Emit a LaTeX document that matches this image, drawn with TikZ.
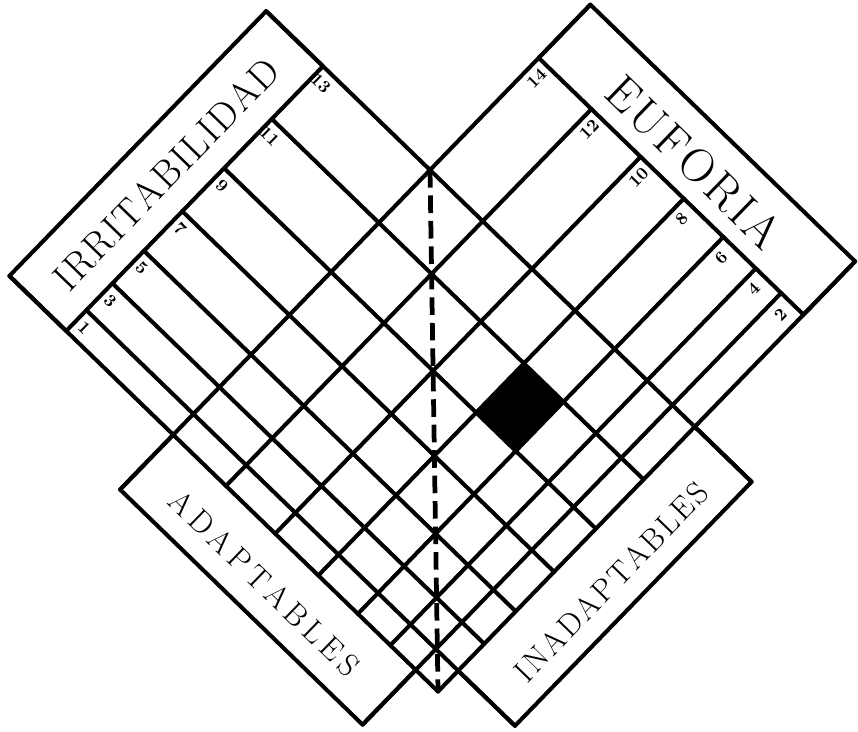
\documentclass[tikz,border=0pt]{standalone}
\usepackage{fontspec}
\ExplSyntaxOn
\NewDocumentCommand\spaceout{mm}{\tl_map_inline:nn {#2}{##1\kern#1}\kern-#1}
\ExplSyntaxOff
\begin{document}
\begin{tikzpicture}[x=0.02cm,y=0.02cm]
\useasboundingbox (0,0) rectangle (858,731);
\tikzset{
  gridline/.style={line width=2.3pt, line cap=round, line join=round},
  axisline/.style={line width=2.7pt, dash pattern=on 10pt off 4.5pt},
  numlab/.style={font=\fontsize{10}{10}\selectfont\bfseries, inner sep=0pt},
  bigtitle/.style={font=\fontsize{22}{22}\selectfont, inner sep=0pt},
  euftitle/.style={font=\fontsize{27}{27}\selectfont, inner sep=0pt},
  adtitle/.style={font=\fontsize{18}{18}\selectfont, inner sep=0pt},
  inadtitle/.style={font=\fontsize{18}{18}\selectfont, inner sep=0pt},
}
\begin{scope}[shift={(430,561)}, rotate=0.88, x={(0.01cm,-0.01cm)}, y={(-0.01cm,-0.01cm)}]
  % black cell
  \fill (286,104) -- (364,104) -- (364,201) -- (286,201) -- cycle;
  % rectangles
  \draw[gridline] (-323,0) -- (-323,522) -- (-211,522) -- (-211,0) -- cycle;
  \draw[gridline] (0,-326) -- (522,-326) -- (522,-221) -- (0,-221) -- cycle;
  \draw[gridline] (0,522) -- (0,630) -- (478,630) -- (478,522);
  \draw[gridline] (522,0) -- (634,0) -- (634,481) -- (522,481);
  % column lines (from IRRITABILIDAD)
  \foreach \d in {104,201,286,364,428}
    \draw[gridline] (-211,\d) -- (522,\d);
  \draw[gridline] (-323,0) -- (634,0);
  \draw[gridline] (-211,481) -- (634,481);
  \draw[gridline] (-323,522) -- (522,522);
  % row lines (from EUFORIA)
  \foreach \s in {104,201,286,364,428}
    \draw[gridline] (\s,-221) -- (\s,522);
  \draw[gridline] (0,-326) -- (0,630);
  \draw[gridline] (478,-221) -- (478,630);
  \draw[gridline] (522,-326) -- (522,522);
  % axis
  \draw[axisline] (0,0) -- (522,522);
  % titles
  \node[bigtitle, rotate=45.88] (irr) at (-264,264) {\spaceout{1pt}{IRRITABILIDAD}};
  \node[euftitle, rotate=-44.12] (euf) at (261,-268) {\spaceout{1.8pt}{EUFORIA}};
  \node[adtitle, rotate=-44.12] (adapt) at (239,583) {\spaceout{3pt}{ADAPTABLES}};
  \node[inadtitle, rotate=45.88] (inadapt) at (590,240) {\spaceout{1.4pt}{INADAPTABLES}};
  % numbers
  \foreach \n/\d in {13/0,11/104,9/201,7/286,5/364,3/428,1/481}
    \node[numlab, rotate=-44.12] (l\n) at (-196,\d+20) {\n};
  \foreach \n/\s in {14/0,12/104,10/201,8/286,6/364,4/428,2/481}
    \node[numlab, rotate=45.88] (r\n) at (\s+18,-198) {\n};
\end{scope}
\end{tikzpicture}
\end{document}
